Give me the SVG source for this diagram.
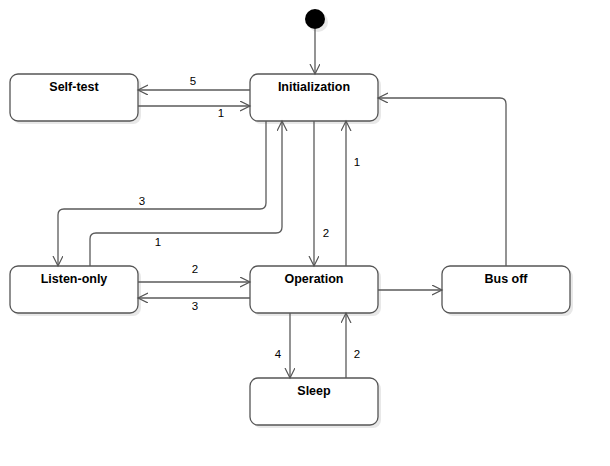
<svg xmlns="http://www.w3.org/2000/svg" width="610" height="466" viewBox="0 0 610 466">
<defs>
<marker id="arr" markerWidth="12" markerHeight="12" refX="10" refY="5" orient="auto" markerUnits="userSpaceOnUse">
<path d="M0,0 L10,5 L0,10" fill="none" stroke="#555" stroke-width="1.2"/>
</marker>
</defs>
<style>
.shadow{fill:#e8e8e8;stroke:none}
.box{fill:#fff;stroke:#555;stroke-width:1.3}
.name{font-family:"Liberation Sans",Arial,sans-serif;font-size:12.5px;font-weight:bold;fill:#000;text-anchor:middle}
.lbl{font-family:"Liberation Sans",Arial,sans-serif;font-size:11.5px;fill:#000;text-anchor:middle}
.edge{fill:none;stroke:#5a5a5a;stroke-width:1.3;marker-end:url(#arr)}
</style>
<rect width="610" height="466" fill="#fff"/>
<g id="start">
<circle cx="318" cy="22" r="10" fill="#e8e8e8"/>
<circle cx="315" cy="19" r="10" fill="#000"/>
</g>
<g id="selftest">
<rect class="shadow" x="13" y="77" width="128" height="47" rx="8"/>
<rect class="box" x="10" y="74" width="128" height="47" rx="8"/>
<text class="name" x="74" y="91">Self-test</text>
</g>
<g id="init">
<rect class="shadow" x="253" y="77" width="128" height="47" rx="8"/>
<rect class="box" x="250" y="74" width="128" height="47" rx="8"/>
<text class="name" x="314" y="91">Initialization</text>
</g>
<g id="listen">
<rect class="shadow" x="13" y="269" width="128" height="47" rx="8"/>
<rect class="box" x="10" y="266" width="128" height="47" rx="8"/>
<text class="name" x="74" y="283">Listen-only</text>
</g>
<g id="operation">
<rect class="shadow" x="253" y="269" width="128" height="47" rx="8"/>
<rect class="box" x="250" y="266" width="128" height="47" rx="8"/>
<text class="name" x="314" y="283">Operation</text>
</g>
<g id="busoff">
<rect class="shadow" x="445" y="269" width="128" height="47" rx="8"/>
<rect class="box" x="442" y="266" width="128" height="47" rx="8"/>
<text class="name" x="506" y="283">Bus off</text>
</g>
<g id="sleep">
<rect class="shadow" x="253" y="381" width="128" height="47" rx="8"/>
<rect class="box" x="250" y="378" width="128" height="47" rx="8"/>
<text class="name" x="314" y="395">Sleep</text>
</g>
<g id="connectors">
<path class="edge" d="M315,29 L315,74"/>
<path class="edge" d="M250,90 L138,90"/>
<path class="edge" d="M138,106 L250,106"/>
<path class="edge" d="M266,121 L266,203 Q266,209 260,209 L64,209 Q58,209 58,215 L58,266"/>
<path class="edge" d="M90,266 L90,239 Q90,233 96,233 L276,233 Q282,233 282,227 L282,121"/>
<path class="edge" d="M314,121 L314,266"/>
<path class="edge" d="M346,266 L346,121"/>
<path class="edge" d="M138,282 L250,282"/>
<path class="edge" d="M250,298 L138,298"/>
<path class="edge" d="M378,290 L442,290"/>
<path class="edge" d="M506,266 L506,104 Q506,98 500,98 L378,98"/>
<path class="edge" d="M290,313 L290,378"/>
<path class="edge" d="M346,378 L346,313"/>
<text class="lbl" x="193" y="85">5</text>
<text class="lbl" x="221" y="117">1</text>
<text class="lbl" x="142" y="205">3</text>
<text class="lbl" x="158" y="246">1</text>
<text class="lbl" x="326" y="237">2</text>
<text class="lbl" x="357" y="166">1</text>
<text class="lbl" x="195" y="273">2</text>
<text class="lbl" x="195" y="310">3</text>
<text class="lbl" x="278" y="358">4</text>
<text class="lbl" x="357" y="358">2</text>
</g>
</svg>
